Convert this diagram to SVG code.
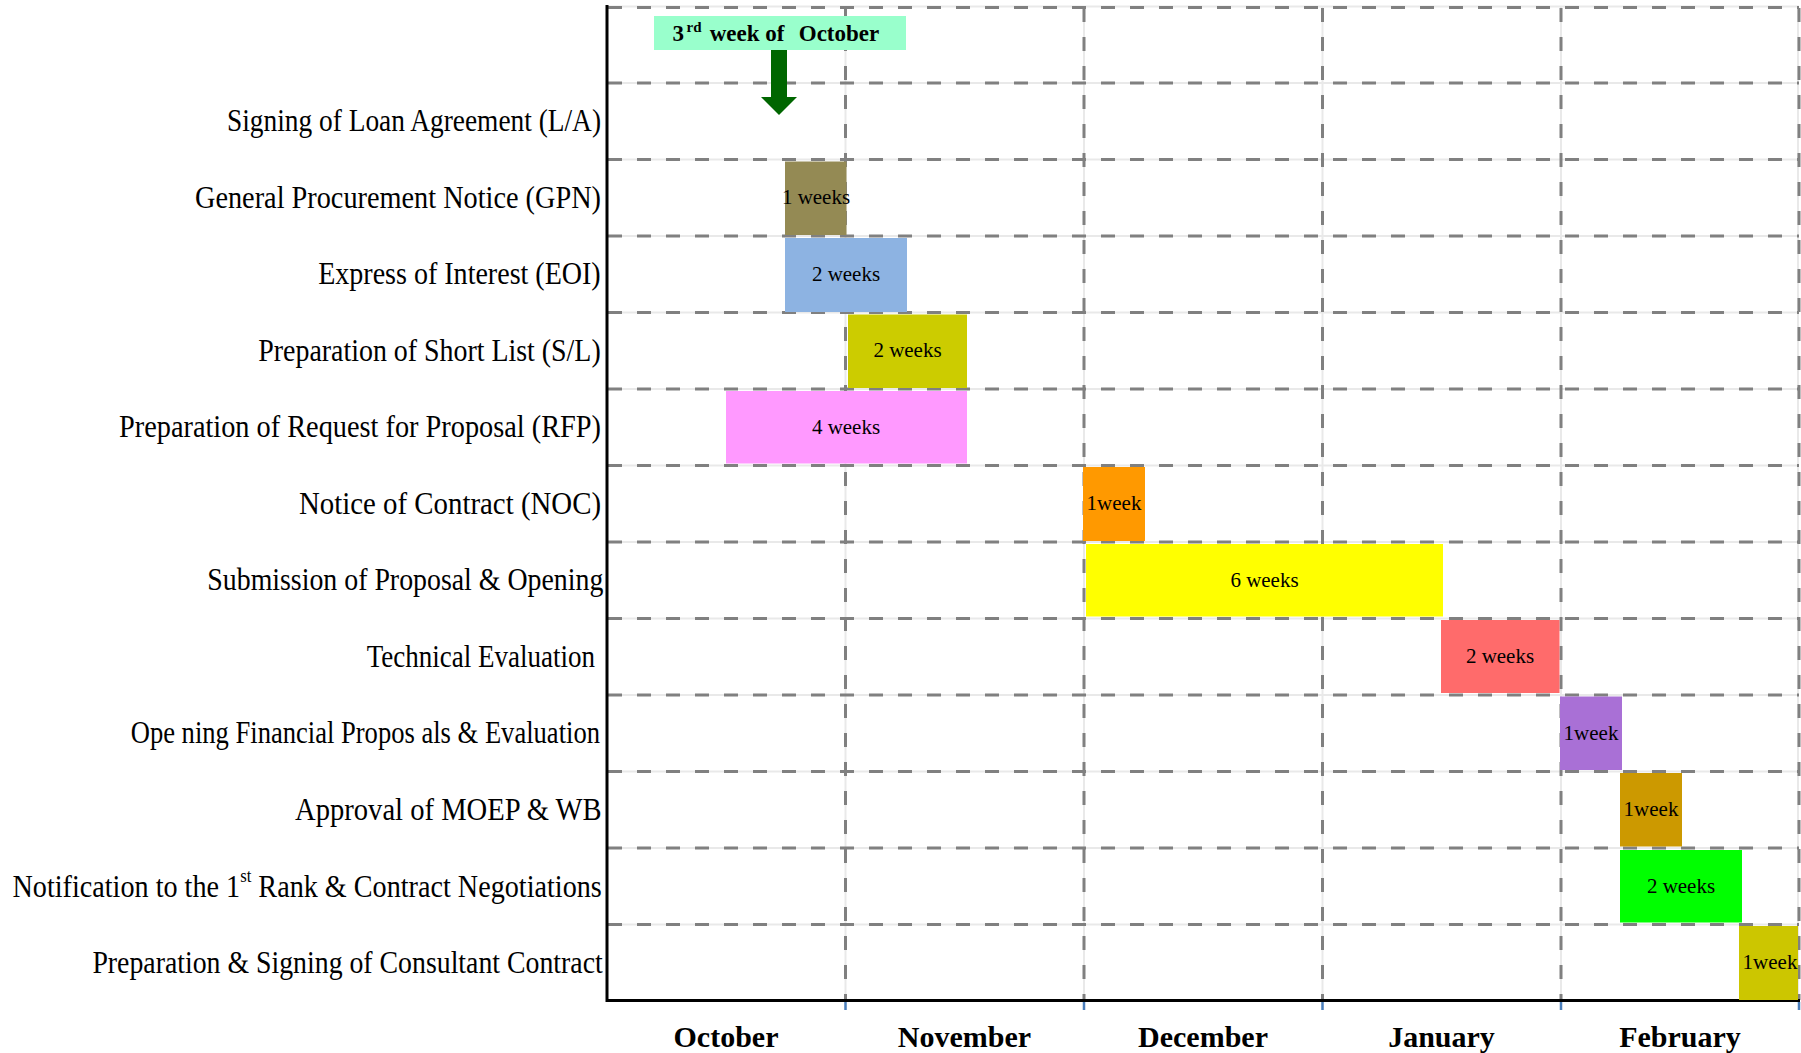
<svg xmlns="http://www.w3.org/2000/svg" width="1801" height="1053" viewBox="0 0 1801 1053">
<style>
.lbl{font-family:"Liberation Serif","Times New Roman",serif;font-size:32px;text-anchor:end;fill:#000}
.bt{font-family:"Liberation Serif","Times New Roman",serif;font-size:21px;text-anchor:middle;fill:#000}
.mon{font-family:"Liberation Serif","Times New Roman",serif;font-size:30px;font-weight:bold;text-anchor:middle;fill:#000}
.wk{font-family:"Liberation Serif","Times New Roman",serif;font-size:23px;font-weight:bold;fill:#000}
.gl{stroke:#e9e9e9;stroke-width:2;fill:none}
.gd{stroke:#808080;stroke-width:3;stroke-dasharray:14 15;fill:none}
.tick{stroke:#4a7ebb;stroke-width:2.5}
</style>
<rect width="1801" height="1053" fill="#fff"/>
<g id="grid">
<g class="gl">
<path d="M607 6.5H1799M607 83H1799M607 159.5H1799M607 236H1799M607 312.5H1799M607 389H1799M607 465.5H1799M607 542H1799M607 618.5H1799M607 695H1799M607 771.5H1799M607 848H1799M607 924.5H1799"/>
<path d="M845.5 6.5V1000M1084 6.5V1000M1322.5 6.5V1000M1561 6.5V1000M1798 6.5V1000"/>
</g>
<path class="gd" stroke-width="2" d="M608 7.5H1799"/>
<path class="gd" d="M608 83H1799M608 159.5H1799M608 236H1799M608 312.5H1799M608 389H1799M608 465.5H1799M608 542H1799M608 618.5H1799M608 695H1799M608 771.5H1799M608 848H1799M608 924.5H1799"/>
<path class="gd" d="M845.5 8V1000M1084 8V1000M1322.5 8V1000M1561 8V1000M1799 8V1000"/>
</g>
<g id="axes">
<path d="M607 5V1001.5M605.5 1000.5H1800" stroke="#000" stroke-width="3" fill="none"/>
<path class="tick" d="M845.5 1002V1010M1084 1002V1010M1322.5 1002V1010M1561 1002V1010M1799 1002V1010"/>
<text class="mon" x="726" y="1047">October</text>
<text class="mon" x="964.5" y="1047">November</text>
<text class="mon" x="1203" y="1047">December</text>
<text class="mon" x="1441.5" y="1047">January</text>
<text class="mon" x="1680" y="1047">February</text>
</g>
<g id="start-marker">
<rect x="654" y="16" width="252" height="34" fill="#99ffcc"/>
<text class="wk" y="40.5"><tspan x="672.5">3</tspan><tspan x="686.5" dy="-9" font-size="15">rd</tspan><tspan x="704" dy="9"> week of</tspan><tspan x="793"> October</tspan></text>
</g>
<g id="row1"><text class="lbl" x="601" y="131" textLength="374" lengthAdjust="spacingAndGlyphs">Signing of Loan Agreement (L/A)</text></g>
<g id="row2">
<text class="lbl" x="601" y="207.5" textLength="406" lengthAdjust="spacingAndGlyphs">General Procurement Notice (GPN)</text>
<rect x="785" y="161.5" width="61.5" height="73.5" fill="#948a54"/>
<text class="bt" x="816" y="204">1 weeks</text>
</g>
<g id="row3">
<text class="lbl" x="600.7" y="284" textLength="282.5" lengthAdjust="spacingAndGlyphs">Express of Interest (EOI)</text>
<rect x="785" y="238" width="122" height="74" fill="#8db3e2"/>
<text class="bt" x="846" y="280.5">2 weeks</text>
</g>
<g id="row4">
<text class="lbl" x="600.7" y="360.5" textLength="342.4" lengthAdjust="spacingAndGlyphs">Preparation of Short List (S/L)</text>
<rect x="848" y="314.5" width="119" height="73.5" fill="#cccc00"/>
<text class="bt" x="907.5" y="357">2 weeks</text>
</g>
<g id="row5">
<text class="lbl" x="601" y="437" textLength="482" lengthAdjust="spacingAndGlyphs">Preparation of Request for Proposal (RFP)</text>
<rect x="726" y="391" width="241" height="72.5" fill="#ff99ff"/>
<text class="bt" x="846" y="433.5">4 weeks</text>
</g>
<g id="row6">
<text class="lbl" x="601" y="513.5" textLength="302" lengthAdjust="spacingAndGlyphs">Notice of Contract (NOC)</text>
<rect x="1083" y="467" width="62" height="74" fill="#ff9900"/>
<text class="bt" x="1114" y="510">1week</text>
</g>
<g id="row7">
<text class="lbl" x="603.3" y="590" textLength="396" lengthAdjust="spacingAndGlyphs">Submission of Proposal &amp; Opening</text>
<rect x="1086" y="544" width="357" height="72.5" fill="#ffff00"/>
<text class="bt" x="1264.5" y="586.5">6 weeks</text>
</g>
<g id="row8">
<text class="lbl" x="595" y="666.5" textLength="228.3" lengthAdjust="spacingAndGlyphs">Technical Evaluation</text>
<rect x="1441" y="620" width="118.5" height="73" fill="#ff6b6b"/>
<text class="bt" x="1500" y="663">2 weeks</text>
</g>
<g id="row9">
<text class="lbl" x="600" y="743" textLength="469.3" lengthAdjust="spacingAndGlyphs">Ope ning Financial Propos als &amp; Evaluation</text>
<rect x="1560" y="696.5" width="62" height="73.5" fill="#a970d6"/>
<text class="bt" x="1591" y="739.5">1week</text>
</g>
<g id="row10">
<text class="lbl" x="601.7" y="819.5" textLength="306.7" lengthAdjust="spacingAndGlyphs">Approval of MOEP &amp; WB</text>
<rect x="1620" y="773" width="62" height="73.5" fill="#cc9900"/>
<text class="bt" x="1651" y="816">1week</text>
</g>
<g id="row11">
<text class="lbl" x="601.8" y="897" textLength="589.3" lengthAdjust="spacingAndGlyphs">Notification to the 1<tspan font-size="19" dy="-15">st</tspan><tspan dy="15"> Rank &amp; Contract Negotiations</tspan></text>
<rect x="1620" y="850" width="122" height="72.5" fill="#00ff00"/>
<text class="bt" x="1681" y="892.5">2 weeks</text>
</g>
<g id="row12">
<text class="lbl" x="602.7" y="972.5" textLength="510.3" lengthAdjust="spacingAndGlyphs">Preparation &amp; Signing of Consultant Contract</text>
<rect x="1739" y="926" width="59" height="74" fill="#ccc600"/>
<text class="bt" x="1770" y="969">1week</text>
</g>
<g id="connectors">
<polygon points="771,50 787,50 787,97 797,97 779,115 761,97 771,97" fill="#006600"/>
</g>
</svg>
